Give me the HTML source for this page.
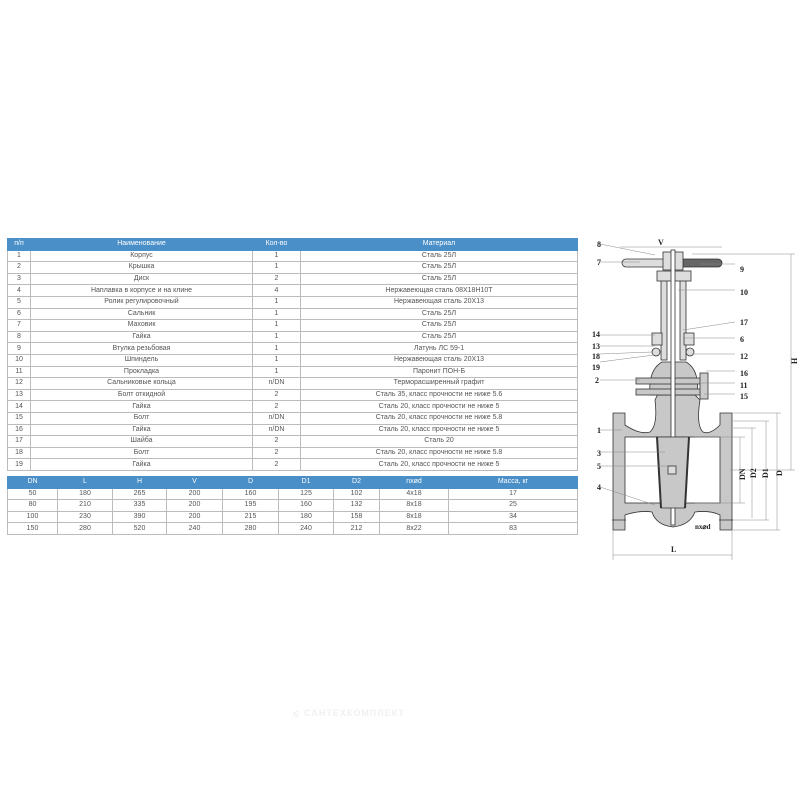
<!DOCTYPE html>
<html><head><meta charset="utf-8"><style>
body{margin:0;background:#fff;width:800px;height:800px;position:relative;font-family:"Liberation Sans","DejaVu Sans",sans-serif;overflow:hidden}
table{position:absolute;border-collapse:collapse;table-layout:fixed;font-size:7px;color:#555}
td,th{border:1px solid #bcbcbc;text-align:center;padding:0;height:10.6px;line-height:10px;white-space:nowrap;overflow:hidden}
th{background:#4a8fc7;color:#fff;font-weight:normal;border-color:#4a8fc7}
</style></head><body>
<table style="left:7px;top:238px;width:571px">
<colgroup><col style="width:23px"><col style="width:222px"><col style="width:48px"><col></colgroup>
<tr><th>п/п</th><th>Наименование</th><th>Кол-во</th><th>Материал</th></tr>
<tr><td>1</td><td>Корпус</td><td>1</td><td>Сталь 25Л</td></tr>
<tr><td>2</td><td>Крышка</td><td>1</td><td>Сталь 25Л</td></tr>
<tr><td>3</td><td>Диск</td><td>2</td><td>Сталь 25Л</td></tr>
<tr><td>4</td><td>Наплавка в корпусе и на клине</td><td>4</td><td>Нержавеющая сталь 08Х18Н10Т</td></tr>
<tr><td>5</td><td>Ролик регулировочный</td><td>1</td><td>Нержавеющая сталь 20Х13</td></tr>
<tr><td>6</td><td>Сальник</td><td>1</td><td>Сталь 25Л</td></tr>
<tr><td>7</td><td>Маховик</td><td>1</td><td>Сталь 25Л</td></tr>
<tr><td>8</td><td>Гайка</td><td>1</td><td>Сталь 25Л</td></tr>
<tr><td>9</td><td>Втулка резьбовая</td><td>1</td><td>Латунь ЛС 59-1</td></tr>
<tr><td>10</td><td>Шпиндель</td><td>1</td><td>Нержавеющая сталь 20Х13</td></tr>
<tr><td>11</td><td>Прокладка</td><td>1</td><td>Паронит ПОН-Б</td></tr>
<tr><td>12</td><td>Сальниковые кольца</td><td>n/DN</td><td>Терморасширенный графит</td></tr>
<tr><td>13</td><td>Болт откидной</td><td>2</td><td>Сталь 35, класс прочности не ниже 5.6</td></tr>
<tr><td>14</td><td>Гайка</td><td>2</td><td>Сталь 20, класс прочности не ниже 5</td></tr>
<tr><td>15</td><td>Болт</td><td>n/DN</td><td>Сталь 20, класс прочности не ниже 5.8</td></tr>
<tr><td>16</td><td>Гайка</td><td>n/DN</td><td>Сталь 20, класс прочности не ниже 5</td></tr>
<tr><td>17</td><td>Шайба</td><td>2</td><td>Сталь 20</td></tr>
<tr><td>18</td><td>Болт</td><td>2</td><td>Сталь 20, класс прочности не ниже 5.8</td></tr>
<tr><td>19</td><td>Гайка</td><td>2</td><td>Сталь 20, класс прочности не ниже 5</td></tr>
</table>
<table style="left:7px;top:476px;width:571px">
<colgroup><col style="width:50px"><col style="width:55px"><col style="width:54px"><col style="width:56px"><col style="width:56px"><col style="width:55px"><col style="width:46px"><col style="width:69px"><col></colgroup>
<tr><th>DN</th><th>L</th><th>H</th><th>V</th><th>D</th><th>D1</th><th>D2</th><th>nxød</th><th>Масса, кг</th></tr>
<tr><td>50</td><td>180</td><td>265</td><td>200</td><td>160</td><td>125</td><td>102</td><td>4x18</td><td>17</td></tr>
<tr><td>80</td><td>210</td><td>335</td><td>200</td><td>195</td><td>160</td><td>132</td><td>8x18</td><td>25</td></tr>
<tr><td>100</td><td>230</td><td>390</td><td>200</td><td>215</td><td>180</td><td>158</td><td>8x18</td><td>34</td></tr>
<tr><td>150</td><td>280</td><td>520</td><td>240</td><td>280</td><td>240</td><td>212</td><td>8x22</td><td>83</td></tr>
</table>
<div style="position:absolute;left:292px;top:708px;font-size:9px;font-weight:bold;color:#f0f0f0;letter-spacing:1px">⩽ САНТЕХКОМПЛЕКТ</div>
<svg width="800" height="800" style="position:absolute;left:0;top:0" font-family="Liberation Serif,serif" font-weight="bold" font-size="8" fill="#222">
<g stroke="#333" stroke-width="0.8">
<!-- body -->
<path d="M613 413 H625 V425 Q640 435 650 432 Q658 425 655 400 L660 390 H690 L700 400 Q696 425 703 432 Q710 435 720 425 V413 H732 V530 H720 V515 Q710 510 695 512 Q690 525 673 527 Q656 525 652 512 Q640 510 625 515 V530 H613 Z" fill="#c8c8c8"/>
<rect x="625" y="437" width="95" height="66" fill="#fff"/>
<path d="M612 520 H626 M719 520 H733" />
<!-- bonnet -->
<path d="M650 395 Q648 370 662 362 H686 Q700 370 697 395 Z" fill="#c8c8c8"/>
<rect x="636" y="378" width="70" height="6" fill="#c8c8c8"/>
<rect x="636" y="389" width="70" height="6" fill="#c8c8c8"/>
<!-- yoke -->
<rect x="661" y="280" width="6" height="80" fill="#ddd"/>
<rect x="680" y="280" width="6" height="80" fill="#ddd"/>
<rect x="657" y="271" width="34" height="10" fill="#ddd"/>
<!-- handwheel -->
<rect x="622" y="259" width="50" height="8" rx="4" fill="#ddd"/>
<rect x="678" y="259" width="44" height="8" rx="4" fill="#666"/>
<rect x="663" y="252" width="20" height="18" fill="#ddd"/>
<rect x="671" y="250" width="4" height="275" fill="#fff"/>
<!-- bolts -->
<rect x="652" y="333" width="10" height="12" fill="#ddd"/><circle cx="656" cy="352" r="4" fill="#ddd"/>
<rect x="684" y="333" width="10" height="12" fill="#ddd"/><circle cx="690" cy="352" r="4" fill="#ddd"/>
<rect x="700" y="373" width="8" height="26" fill="#ccc"/>
<!-- wedge -->
<path d="M657 437 H689 L685 508 H661 Z" fill="#c8c8c8"/>
<path d="M657 437 L661 508 M689 437 L685 508" stroke-width="2"/>
<rect x="668" y="466" width="8" height="8" fill="#ddd"/>
<!-- leaders -->
<g stroke="#888" stroke-width="0.5" fill="none">
<path d="M600 244 L655 255 M600 262 H640 M700 264 H735 M678 290 H735 M683 330 L735 322 M683 338 H735 M600 335 H655 M600 346 H655 M600 354 L652 352 M600 362 L654 355 M692 354 H735 M706 371 H735 M600 380 H640 M700 383 H735 M704 394 H735 M600 430 H622 M600 452 H665 M600 466 H668 M600 487 L655 505"/>
<path d="M620 247 H722 M692 254 H795 M791 254 V470 M730 470 H795 M733 413 H781 M777 413 V530 M733 421 H769 M766 421 V520 M733 428 H756 M752 428 V518 M695 437 H745 M740 437 V503 M695 503 H745 M733 520 H769 M733 530 H780 M613 530 V560 M732 530 V560 M613 555 H732"/>
</g>
</g>
<text x="597" y="247">8</text><text x="658" y="245">V</text><text x="597" y="265">7</text>
<text x="740" y="272">9</text><text x="740" y="295">10</text><text x="740" y="325">17</text><text x="740" y="342">6</text>
<text x="592" y="337">14</text><text x="592" y="349">13</text><text x="592" y="359">18</text><text x="592" y="370">19</text>
<text x="740" y="359">12</text><text x="740" y="376">16</text><text x="595" y="383">2</text><text x="740" y="388">11</text><text x="740" y="399">15</text>
<text x="597" y="433">1</text><text x="597" y="456">3</text><text x="597" y="469">5</text><text x="597" y="490">4</text>
<text x="671" y="552">L</text><text x="695" y="529" font-size="7">nx⌀d</text>
<text transform="translate(797,364) rotate(-90)">H</text>
<text transform="translate(745,480) rotate(-90)">DN</text>
<text transform="translate(756,478) rotate(-90)">D2</text>
<text transform="translate(768,478) rotate(-90)">D1</text>
<text transform="translate(782,476) rotate(-90)">D</text>
</svg>
</body></html>
